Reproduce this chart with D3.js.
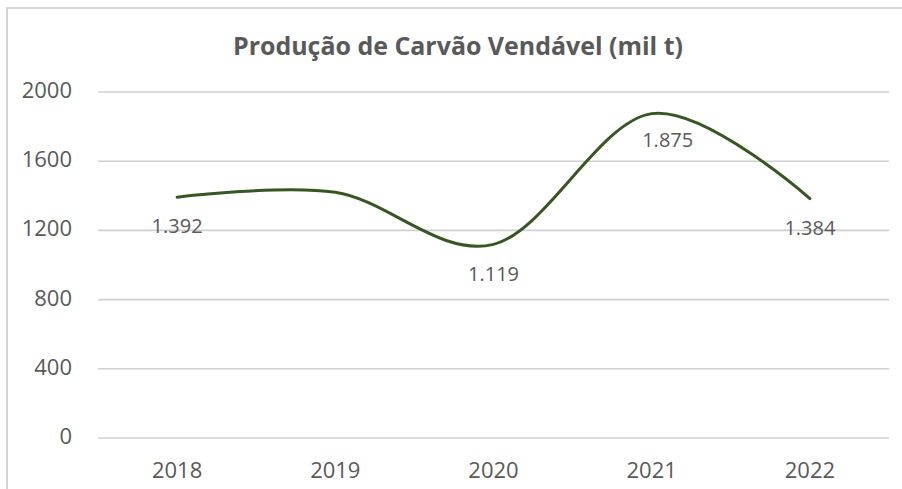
<!DOCTYPE html>
<html>
<head>
<meta charset="utf-8">
<script src="https://cdn.jsdelivr.net/npm/d3@7"></script>
<style>
  html, body { margin: 0; padding: 0; background: #fff; }
  svg { display: block; font-family: "Open Sans", sans-serif; }
</style>
</head>
<body>
<svg width="902" height="489"></svg>
<script>
const years = ['2018', '2019', '2020', '2021', '2022'];
const production = [1392, 1420, 1119, 1875, 1384];
// 2019 has no data label in the original
const dataLabels = ['1.392', null, '1.119', '1.875', '1.384'];
const yTicks = [0, 400, 800, 1200, 1600, 2000];
const title = 'Produção de Carvão Vendável (mil t)';

const svg = d3.select('svg');
const textColor = '#595959';

// chart frame (cut by the window on the right and bottom)
svg.append('rect')
    .attr('x', 7).attr('y', 8)
    .attr('width', 1000).attr('height', 1000)
    .attr('fill', 'none')
    .attr('stroke', '#d4d4d4')
    .attr('stroke-width', 2);

const xScale = d3.scalePoint().domain(years).range([98, 889]).padding(0.5);
const yScale = d3.scaleLinear().domain([0, 2000]).range([438, 92]);

// gridlines
svg.append('g')
    .selectAll('line')
    .data(yTicks)
    .enter()
    .append('line')
    .attr('x1', 98).attr('x2', 889)
    .attr('y1', d => yScale(d)).attr('y2', d => yScale(d))
    .attr('stroke', '#d0d0d0')
    .attr('stroke-width', 1.6);

// y axis labels
svg.append('g')
    .selectAll('text')
    .data(yTicks)
    .enter()
    .append('text')
    .attr('x', 72)
    .attr('y', d => yScale(d) - 2)
    .attr('dy', '0.36em')
    .attr('text-anchor', 'end')
    .attr('font-size', 22)
    .attr('fill', textColor)
    .text(d => d);

// x axis labels
svg.append('g')
    .selectAll('text')
    .data(years)
    .enter()
    .append('text')
    .attr('x', d => xScale(d))
    .attr('y', 478)
    .attr('text-anchor', 'middle')
    .attr('font-size', 22)
    .attr('fill', textColor)
    .text(d => d);

// smoothed line
const line = d3.line()
    .x((d, i) => xScale(years[i]))
    .y(d => yScale(d))
    .curve(d3.curveCardinal.tension(0));

svg.append('path')
    .datum(production)
    .attr('d', line)
    .attr('fill', 'none')
    .attr('stroke', '#375623')
    .attr('stroke-width', 3)
    .attr('stroke-linecap', 'round');

// data labels, below the points (2021 label was nudged right in the original)
const labelNudge = { '2021': [16, -3] };
svg.append('g')
    .selectAll('text')
    .data(years.filter((y, i) => dataLabels[i] !== null))
    .enter()
    .append('text')
    .attr('x', d => xScale(d) + (labelNudge[d] ? labelNudge[d][0] : 0))
    .attr('y', d => yScale(production[years.indexOf(d)]) + 29 + (labelNudge[d] ? labelNudge[d][1] : 0))
    .attr('dy', '0.36em')
    .attr('text-anchor', 'middle')
    .attr('font-size', 20)
    .attr('fill', textColor)
    .text(d => dataLabels[years.indexOf(d)]);

// title
svg.append('text')
    .attr('x', 458)
    .attr('y', 55)
    .attr('text-anchor', 'middle')
    .attr('font-size', 25)
    .attr('font-weight', 'bold')
    .attr('fill', textColor)
    .attr('textLength', 450)
    .attr('lengthAdjust', 'spacingAndGlyphs')
    .text(title);
</script>
</body>
</html>
